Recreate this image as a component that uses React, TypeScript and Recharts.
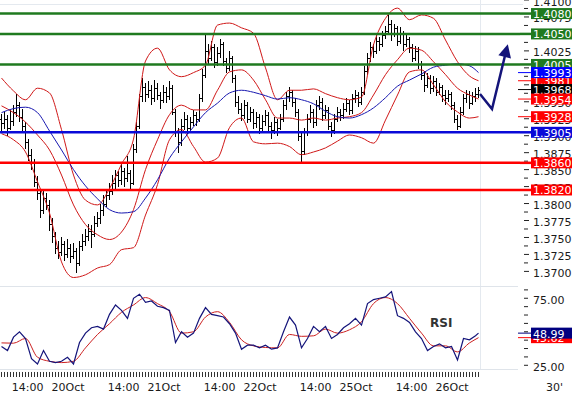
import React from 'react';
import { ComposedChart, Line, Bar, XAxis, YAxis, ReferenceLine } from 'recharts';

// ---------- price bars (30' bars, index 0..159) ----------
const opens = [
  1.3925,1.3918,1.3925,1.3912,1.3922,1.3935,1.3945,1.3928,1.3915,1.3890,
  1.3872,1.3860,1.3832,1.3815,1.3790,1.3808,1.3798,1.3770,1.3752,1.3735,
  1.3728,1.3740,1.3725,1.3735,1.3722,1.3730,1.3712,1.3738,1.3745,1.3752,
  1.3760,1.3755,1.3772,1.3778,1.3790,1.3800,1.3812,1.3818,1.3830,1.3842,
  1.3835,1.3848,1.3838,1.3845,1.3830,1.3880,1.3915,1.3958,1.3972,1.3962,
  1.3968,1.3955,1.3970,1.3960,1.3952,1.3965,1.3958,1.3970,1.3935,1.3905,
  1.3890,1.3915,1.3925,1.3912,1.3920,1.3930,1.3925,1.3955,1.3990,1.4025,
  1.4015,1.4030,1.4008,1.4022,1.4035,1.4010,1.4000,1.4015,1.3985,1.3950,
  1.3940,1.3930,1.3945,1.3925,1.3935,1.3918,1.3928,1.3912,1.3922,1.3930,
  1.3915,1.3908,1.3920,1.3912,1.3925,1.3945,1.3958,1.3965,1.3950,1.3935,
  1.3900,1.3878,1.3905,1.3925,1.3935,1.3920,1.3945,1.3950,1.3930,1.3938,
  1.3915,1.3908,1.3925,1.3935,1.3930,1.3940,1.3948,1.3938,1.3955,1.3960,
  1.3950,1.3965,1.3995,1.4015,1.4030,1.4025,1.4040,1.4035,1.4048,1.4055,
  1.4065,1.4050,1.4058,1.4040,1.4050,1.4035,1.4042,1.4030,1.4015,1.4025,
  1.4005,1.3990,1.3975,1.3985,1.3970,1.3980,1.3965,1.3972,1.3960,1.3955,
  1.3962,1.3945,1.3925,1.3915,1.3935,1.3955,1.3962,1.3948,1.3958,1.3962,
];
const highs = [
  1.3932,1.3935,1.3930,1.3938,1.3945,1.3962,1.3950,1.3940,1.3920,1.3895,
  1.3880,1.3865,1.3840,1.3822,1.3818,1.3815,1.3805,1.3778,1.3758,1.3745,
  1.3750,1.3745,1.3748,1.3740,1.3742,1.3735,1.3745,1.3755,1.3762,1.3770,
  1.3768,1.3782,1.3788,1.3800,1.3812,1.3822,1.3830,1.3842,1.3850,1.3848,
  1.3858,1.3852,1.3870,1.3850,1.3888,1.3920,1.3962,1.3985,1.3978,1.3980,
  1.3975,1.3982,1.3978,1.3965,1.3975,1.3972,1.3980,1.3975,1.3940,1.3912,
  1.3925,1.3935,1.3930,1.3928,1.3938,1.3935,1.3962,1.3998,1.4048,1.4035,
  1.4040,1.4035,1.4030,1.4042,1.4038,1.4015,1.4025,1.4018,1.3990,1.3958,
  1.3948,1.3952,1.3950,1.3942,1.3940,1.3935,1.3932,1.3930,1.3938,1.3935,
  1.3920,1.3928,1.3925,1.3932,1.3952,1.3965,1.3972,1.3968,1.3955,1.3940,
  1.3905,1.3912,1.3932,1.3945,1.3940,1.3952,1.3958,1.3955,1.3945,1.3942,
  1.3920,1.3932,1.3942,1.3940,1.3948,1.3955,1.3952,1.3962,1.3968,1.3965,
  1.3972,1.4002,1.4022,1.4038,1.4035,1.4048,1.4045,1.4055,1.4062,1.4078,
  1.4070,1.4065,1.4062,1.4060,1.4055,1.4048,1.4045,1.4035,1.4032,1.4030,
  1.4010,1.3995,1.3992,1.3990,1.3988,1.3985,1.3978,1.3975,1.3968,1.3968,
  1.3965,1.3950,1.3930,1.3942,1.3962,1.3968,1.3966,1.3965,1.3970,1.3972,
];
const lows = [
  1.3905,1.3910,1.3900,1.3908,1.3915,1.3928,1.3920,1.3905,1.3880,1.3862,
  1.3850,1.3825,1.3805,1.3778,1.3785,1.3790,1.3760,1.3742,1.3725,1.3718,
  1.3722,1.3715,1.3720,1.3712,1.3718,1.3698,1.3708,1.3730,1.3738,1.3745,
  1.3735,1.3750,1.3765,1.3770,1.3782,1.3795,1.3805,1.3812,1.3822,1.3825,
  1.3828,1.3825,1.3832,1.3818,1.3828,1.3875,1.3910,1.3950,1.3950,1.3955,
  1.3945,1.3950,1.3952,1.3940,1.3948,1.3948,1.3952,1.3930,1.3898,1.3875,
  1.3885,1.3908,1.3902,1.3905,1.3915,1.3915,1.3920,1.3950,1.3985,1.4005,
  1.4010,1.4000,1.4002,1.4015,1.4002,1.3992,1.3995,1.3978,1.3942,1.3932,
  1.3922,1.3925,1.3918,1.3920,1.3910,1.3912,1.3902,1.3905,1.3915,1.3905,
  1.3895,1.3902,1.3900,1.3908,1.3920,1.3938,1.3950,1.3942,1.3928,1.3892,
  1.3860,1.3872,1.3900,1.3918,1.3912,1.3915,1.3938,1.3922,1.3925,1.3908,
  1.3898,1.3902,1.3920,1.3922,1.3925,1.3935,1.3930,1.3932,1.3948,1.3942,
  1.3945,1.3960,1.3990,1.4008,1.4015,1.4020,1.4025,1.4030,1.4042,1.4050,
  1.4040,1.4045,1.4032,1.4035,1.4025,1.4030,1.4022,1.4008,1.4010,1.3998,
  1.3982,1.3965,1.3970,1.3962,1.3965,1.3958,1.3960,1.3950,1.3945,1.3950,
  1.3938,1.3918,1.3909,1.3912,1.3930,1.3948,1.3940,1.3945,1.3950,1.3955,
];
const closes = [
  1.3918,1.3925,1.3912,1.3922,1.3935,1.3945,1.3928,1.3915,1.3890,1.3872,
  1.3860,1.3832,1.3815,1.3790,1.3808,1.3798,1.3770,1.3752,1.3735,1.3728,
  1.3740,1.3725,1.3735,1.3722,1.3730,1.3712,1.3738,1.3745,1.3752,1.3760,
  1.3755,1.3772,1.3778,1.3790,1.3800,1.3812,1.3818,1.3830,1.3842,1.3835,
  1.3848,1.3838,1.3845,1.3830,1.3880,1.3915,1.3958,1.3972,1.3962,1.3968,
  1.3955,1.3970,1.3960,1.3952,1.3965,1.3958,1.3970,1.3935,1.3905,1.3890,
  1.3915,1.3925,1.3912,1.3920,1.3930,1.3925,1.3955,1.3990,1.4025,1.4015,
  1.4030,1.4008,1.4022,1.4035,1.4010,1.4000,1.4015,1.3985,1.3950,1.3940,
  1.3930,1.3945,1.3925,1.3935,1.3918,1.3928,1.3912,1.3922,1.3930,1.3915,
  1.3908,1.3920,1.3912,1.3925,1.3945,1.3958,1.3965,1.3950,1.3935,1.3900,
  1.3878,1.3905,1.3925,1.3935,1.3920,1.3945,1.3950,1.3930,1.3938,1.3915,
  1.3908,1.3925,1.3935,1.3930,1.3940,1.3948,1.3938,1.3955,1.3960,1.3950,
  1.3965,1.3995,1.4015,1.4030,1.4025,1.4040,1.4035,1.4048,1.4055,1.4065,
  1.4050,1.4058,1.4040,1.4050,1.4035,1.4042,1.4030,1.4015,1.4025,1.4005,
  1.3990,1.3975,1.3985,1.3970,1.3980,1.3965,1.3972,1.3960,1.3955,1.3962,
  1.3945,1.3925,1.3915,1.3935,1.3955,1.3962,1.3948,1.3958,1.3962,1.3968,
];

// ---------- indicators, sampled every 4 bars (last sample = bar 159) ----------
const upperBand = [
  1.3985,1.3966,1.3953,1.3970,1.3963,1.3909,1.3842,1.3805,1.3798,1.3822,
  1.3858,1.3895,1.4010,1.4029,1.3997,1.3987,1.3993,1.4004,1.4063,1.4066,
  1.4059,1.4051,1.4000,1.3953,1.3967,1.3967,1.3969,1.3962,1.3956,1.3953,
  1.3957,1.4034,1.4073,1.4088,1.4071,1.4078,1.4073,1.4041,1.4009,1.3988,1.3981,
];
const middleBand = [
  1.3944,1.3934,1.3920,1.3901,1.3879,1.3842,1.3798,1.3769,1.3754,1.3747,
  1.3758,1.3791,1.3850,1.3894,1.3931,1.3945,1.3938,1.3938,1.3967,1.3994,
  1.3997,1.3982,1.3953,1.3926,1.3926,1.3923,1.3926,1.3923,1.3926,1.3928,
  1.3934,1.3960,1.3990,1.4012,1.4029,1.4026,1.4009,1.3990,1.3970,1.3960,1.3954,
];
const lowerBand = [
  1.3903,1.3894,1.3876,1.3832,1.3786,1.3714,1.3691,1.3695,1.3705,1.3710,
  1.3732,1.3735,1.3783,1.3828,1.3894,1.3909,1.3884,1.3861,1.3867,1.3912,
  1.3926,1.3891,1.3888,1.3889,1.3884,1.3872,1.3876,1.3882,1.3892,1.3901,
  1.3897,1.3889,1.3923,1.3960,1.3994,1.3997,1.3975,1.3950,1.3935,1.3926,1.3928,
];
const blueAverage = [
  1.3934,1.3940,1.3942,1.3934,1.3907,1.3879,1.3850,1.3826,1.3807,1.3791,
  1.3786,1.3788,1.3808,1.3835,1.3867,1.3891,1.3913,1.3934,1.3948,1.3963,
  1.3967,1.3964,1.3959,1.3954,1.3956,1.3953,1.3947,1.3936,1.3928,1.3926,
  1.3931,1.3941,1.3956,1.3973,1.3982,1.3991,1.4001,1.4004,1.4006,1.4003,1.3993,
];

// ---------- RSI (every 2 bars) and its average (every 4 bars) ----------
const rsiValues = [
  39,36,46,50,45,30,26,36,28,27, 28,31,26,42,49,53,54,52,63,70,
  66,60,75,78,72,73,69,68,66,42, 50,46,49,60,68,63,62,61,56,49,
  37,40,40,38,40,37,38,50,61,55, 38,45,54,50,54,45,48,53,56,60,
  55,71,74,75,76,80,62,60,57,50, 45,36,39,41,38,39,29,45,44,47, 48.99,
];
const rsiAverage = [
  41.7,41.5,45,31,28,27,28,38,48,56, 64.5,70,75.5,71,65,49,50,61,65,57,
  44,39.5,38.3,38,48,46.6,47,52,49,51.5, 57.5,71,75.5,71,60,49,39.5,39.5,35,41.7, 45.62,
];

// ---------- levels and projection arrow ----------
const greenLevels = [1.4080, 1.4050, 1.4005];
const blueLevels = [1.3905];
const redLevels = [1.3860, 1.3820];
const arrowX = [159.5, 163.5, 167.8];
const arrowY = [1.39614, 1.39393, 1.40175];

// ---------- axis ticks ----------
const priceMajorTicks = [
  1.3700,1.3725,1.3750,1.3775,1.3800,1.3825,1.3850,1.3875,1.3900,
  1.3925,1.3950,1.3975,1.4000,1.4025,1.4050,1.4075,1.4100,
];
const rsiMajorTicks = [25, 75];
const timeTickPos = [8.7, 22.2, 40.7, 54.2, 72.7, 86.2, 104.7, 118.2, 136.7, 150.2];
const timeTickLabels = ['14:00','20Oct','14:00','21Oct','14:00','22Oct','14:00','25Oct','14:00','26Oct'];

const FONT = '"DejaVu Sans", Verdana, sans-serif';
const X_DOMAIN: [number, number] = [-0.5, 172.83];
const PRICE_DOMAIN: [number, number] = [1.3677, 1.41];
// RSI panel domain; its lowest strip (below RSI_MARK_TOP) carries the time-axis tick marks
const RSI_DOMAIN: [number, number] = [16.27, 83.4];
const RSI_MARK_TOP = 20;

const GREEN = '#1f7a1f';
const BLUE = '#0a0ad8';
const RED = '#ff0000';
const BAND_RED = '#d01818';
const MA_BLUE = '#1818b0';
const NAVY = '#14147a';

const last = closes.length - 1;
const barData = closes.map((c, i) => ({ x: i, o: opens[i], h: highs[i], l: lows[i], c }));
const idx4 = (k: number, n: number) => (k === n - 1 ? last : k * 4);
const idx2 = (k: number, n: number) => (k === n - 1 ? last : k * 2);
const bandData = upperBand.map((u, k) => ({
  x: idx4(k, upperBand.length), u, m: middleBand[k], lo: lowerBand[k], ma: blueAverage[k],
}));
const rsiData = rsiValues.map((v, k) => ({ x: idx2(k, rsiValues.length), v }));
const rsiAvgData = rsiAverage.map((v, k) => ({ x: idx4(k, rsiAverage.length), v }));
const arrowData = arrowX.map((x, k) => ({ x, y: arrowY[k] }));

const priceTicks: number[] = [];
priceMajorTicks.forEach((t, k) => {
  priceTicks.push(t);
  if (k < priceMajorTicks.length - 1) priceTicks.push(+(t + 0.00125).toFixed(5));
});
const rsiTicks: number[] = [];
for (let t = 25; t <= 81.3; t += 6.25) rsiTicks.push(+t.toFixed(2));

const OhlcShape = (props: any) => {
  const { x, y, width, height, payload } = props;
  if (!payload) return <g />;
  const top = Math.min(y, y + height);
  const bot = Math.max(y, y + height);
  const span = payload.h - payload.l || 1e-9;
  const cx = Math.floor(x + width / 2) + 0.5;
  const yo = Math.round(top + ((payload.h - payload.o) / span) * (bot - top)) + 0.5;
  const yc = Math.round(top + ((payload.h - payload.c) / span) * (bot - top)) + 0.5;
  return (
    <g stroke="#000" strokeWidth={1} shapeRendering="crispEdges">
      <line x1={cx} x2={cx} y1={top} y2={bot} />
      <line x1={cx - 1.5} x2={cx} y1={yo} y2={yo} />
      <line x1={cx} x2={cx + 1.5} y1={yc} y2={yc} />
    </g>
  );
};

const PriceTick = (props: any) => {
  const { x, y, payload } = props;
  const v = payload.value;
  const major = priceMajorTicks.some((t) => Math.abs(t - v) < 1e-7);
  return (
    <g>
      <line x1={x + 4} x2={x + (major ? 9 : 8)} y1={y} y2={y} stroke="#222" />
      {major && (
        <text x={x + 13} y={y + 5.5} fontSize={11} fontFamily={FONT} fill="#1a1a1a">
          {v.toFixed(4)}
        </text>
      )}
    </g>
  );
};

const RsiTick = (props: any) => {
  const { x, y, payload } = props;
  const v = payload.value;
  const major = rsiMajorTicks.includes(v);
  return (
    <g>
      <line x1={x + 4} x2={x + 8} y1={y} y2={y} stroke="#222" />
      {major && (
        <text x={x + 13} y={y + 5.5} fontSize={11} fontFamily={FONT} fill="#1a1a1a">
          {v.toFixed(2)}
        </text>
      )}
    </g>
  );
};

const TimeTick = (props: any) => {
  const { x, y, payload } = props;
  const k = timeTickPos.findIndex((p) => Math.abs(p - payload.value) < 1e-6);
  return (
    <text x={x} y={y + 14} textAnchor="middle" fontSize={11} fontFamily={FONT} fill="#1a1a1a">
      {k >= 0 ? timeTickLabels[k] : ''}
    </text>
  );
};

const tag = (text: string, color: string, mode: 'long' | 'short') => (props: any) => {
  const vb = props.viewBox || {};
  const right = (vb.x || 0) + (vb.width || 0);
  const y = vb.y || 0;
  return (
    <g>
      {mode === 'long' ? (
        <line x1={right} x2={right + 11} y1={y} y2={y} stroke={color} strokeWidth={2.5} />
      ) : (
        <line x1={right - 2} x2={right + 11} y1={y} y2={y} stroke={color} strokeWidth={1} />
      )}
      <rect x={right + 11} y={y - 5.5} width={41} height={11} fill={color} />
      <text x={right + 13} y={y + 4.5} fill="#fff" fontSize={11} fontFamily={FONT}>
        {text}
      </text>
    </g>
  );
};

const ArrowDot = (props: any) => {
  const { cx, cy, index } = props;
  if (index !== arrowX.length - 1 || cx == null) return <g key={`a${index}`} />;
  return (
    <polygon
      key={`a${index}`}
      points={`${cx},${cy - 12} ${cx - 6.5},${cy + 1} ${cx + 6.5},${cy + 1}`}
      fill={NAVY}
      transform={`rotate(14 ${cx} ${cy})`}
    />
  );
};

const lineCommon = { dot: false, activeDot: false, isAnimationActive: false } as const;

export default function App() {
  const mainLast = bandData[bandData.length - 1];
  return (
    <div style={{ position: 'absolute', left: 0, top: 0, width: 573, height: 395, background: '#fff', overflow: 'hidden' }}>
      <svg width={573} height={395} style={{ position: 'absolute', left: 0, top: 0 }}>
        <line x1={0} x2={523} y1={4.5} y2={4.5} stroke="#e4e9ef" />
        <line x1={480.5} x2={480.5} y1={0} y2={370} stroke="#e4e9ef" />
        <line x1={0} x2={518} y1={286.5} y2={286.5} stroke="#dfe4ea" />
        <line x1={0} x2={518} y1={369.5} y2={369.5} stroke="#dfe4ea" />
      </svg>

      {/* price panel: axis, bars, bands */}
      <div style={{ position: 'absolute', left: 0, top: 0 }}>
        <ComposedChart width={573} height={287} data={barData} margin={{ top: 0, right: 0, bottom: 0, left: 0 }}>
          <XAxis dataKey="x" type="number" domain={X_DOMAIN} allowDataOverflow hide />
          <YAxis
            orientation="right" width={53} type="number" domain={PRICE_DOMAIN} allowDataOverflow
            ticks={priceTicks} interval={0} axisLine={false} tickLine={false} tickSize={0} tickMargin={0}
            tick={<PriceTick />}
          />
          <Bar dataKey={(d: any) => [d.l, d.h]} barSize={3} shape={OhlcShape} isAnimationActive={false} />
          <Line data={bandData} dataKey="u" type="monotone" stroke={BAND_RED} strokeWidth={1} {...lineCommon} />
          <Line data={bandData} dataKey="m" type="monotone" stroke={BAND_RED} strokeWidth={1} {...lineCommon} />
          <Line data={bandData} dataKey="lo" type="monotone" stroke={BAND_RED} strokeWidth={1} {...lineCommon} />
          <Line data={bandData} dataKey="ma" type="monotone" stroke={MA_BLUE} strokeWidth={1} {...lineCommon} />
        </ComposedChart>
      </div>

      {/* price panel overlay: levels, value tags, projection arrow */}
      <div style={{ position: 'absolute', left: 0, top: 0 }}>
        <ComposedChart width={573} height={287} data={arrowData} margin={{ top: 0, right: 0, bottom: 0, left: 0 }}>
          <XAxis dataKey="x" type="number" domain={X_DOMAIN} allowDataOverflow hide />
          <YAxis
            orientation="right" width={53} type="number" domain={PRICE_DOMAIN} allowDataOverflow
            ticks={priceTicks} axisLine={false} tickLine={false} tick={false}
          />
          {greenLevels.map((v) => (
            <ReferenceLine key={`g${v}`} y={v} stroke={GREEN} strokeWidth={2.5} label={tag(v.toFixed(4), GREEN, 'long')} />
          ))}
          {blueLevels.map((v) => (
            <ReferenceLine key={`b${v}`} y={v} stroke={BLUE} strokeWidth={2.5} label={tag(v.toFixed(4), BLUE, 'long')} />
          ))}
          {redLevels.map((v) => (
            <ReferenceLine key={`r${v}`} y={v} stroke={RED} strokeWidth={2.5} label={tag(v.toFixed(4), RED, 'long')} />
          ))}
          <ReferenceLine y={mainLast.u} stroke="none" label={tag(mainLast.u.toFixed(4), RED, 'short')} />
          <ReferenceLine y={mainLast.ma} stroke="none" label={tag(mainLast.ma.toFixed(4), '#0000ff', 'short')} />
          <ReferenceLine y={closes[last]} stroke="none" label={tag(closes[last].toFixed(4), '#000', 'short')} />
          <ReferenceLine y={mainLast.m} stroke="none" label={tag(mainLast.m.toFixed(4), RED, 'short')} />
          <ReferenceLine y={mainLast.lo} stroke="none" label={tag(mainLast.lo.toFixed(4), RED, 'short')} />
          <Line dataKey="y" type="linear" stroke={NAVY} strokeWidth={2.5} dot={ArrowDot} activeDot={false} isAnimationActive={false} />
        </ComposedChart>
      </div>

      {/* RSI panel */}
      <div style={{ position: 'absolute', left: 0, top: 286 }}>
        <ComposedChart width={573} height={109} data={rsiData} margin={{ top: 1, right: 0, bottom: 0, left: 0 }}>
          <XAxis
            dataKey="x" type="number" domain={X_DOMAIN} allowDataOverflow ticks={timeTickPos} interval={0}
            height={18} axisLine={false} tickLine={false} tickSize={0} tickMargin={0} tick={<TimeTick />}
          />
          <YAxis
            orientation="right" width={53} type="number" domain={RSI_DOMAIN} allowDataOverflow
            ticks={rsiTicks} interval={0} axisLine={false} tickLine={false} tickSize={0} tickMargin={0}
            tick={<RsiTick />}
          />
          {barData.map((d) => (
            <ReferenceLine
              key={`mk${d.x}`}
              segment={[{ x: d.x, y: RSI_DOMAIN[0] }, { x: d.x, y: RSI_MARK_TOP }]}
              stroke="#333"
              strokeWidth={1}
              ifOverflow="visible"
            />
          ))}
          <Line data={rsiAvgData} dataKey="v" type="monotone" stroke="#cc2020" strokeWidth={1} {...lineCommon} />
          <Line data={rsiData} dataKey="v" type="linear" stroke={NAVY} strokeWidth={1.2} {...lineCommon} />
          <ReferenceLine y={rsiAverage[rsiAverage.length - 1]} stroke="none" label={tag(rsiAverage[rsiAverage.length - 1].toFixed(2), RED, 'short')} />
          <ReferenceLine y={rsiValues[rsiValues.length - 1]} stroke="none" label={tag(rsiValues[rsiValues.length - 1].toFixed(2), '#000080', 'short')} />
        </ComposedChart>
      </div>

      <svg width={573} height={395} style={{ position: 'absolute', left: 0, top: 0, pointerEvents: 'none' }}>
        <text x={430} y={327} fontSize={12} fontWeight="bold" fontFamily={FONT} fill="#333">RSI</text>
        <text x={546} y={391} fontSize={11} fontFamily={FONT} fill="#1a1a1a">30'</text>
      </svg>
    </div>
  );
}
